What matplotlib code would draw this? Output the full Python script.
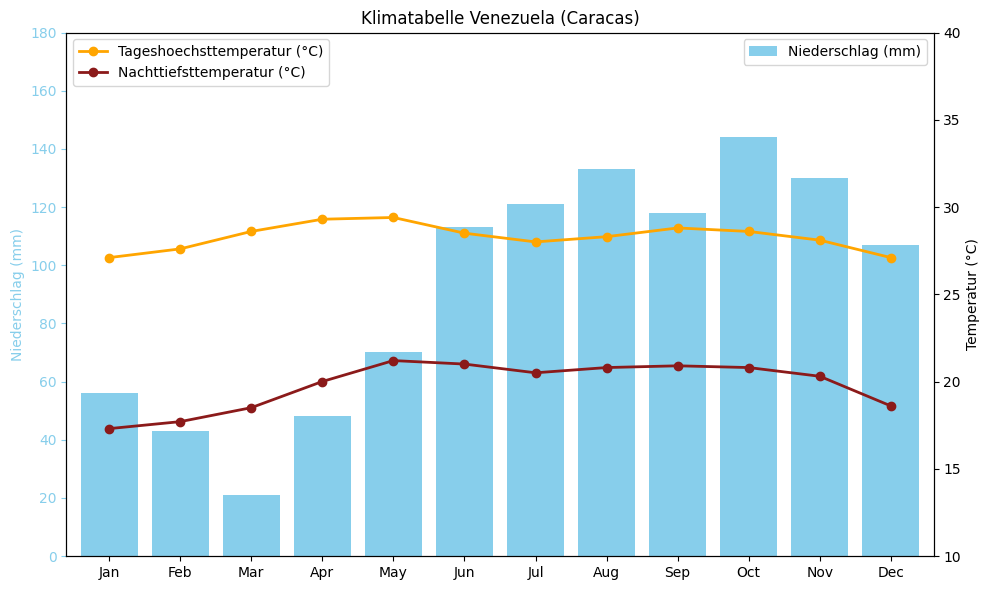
import matplotlib
matplotlib.use("Agg")
import matplotlib.pyplot as plt

months = ["Jan", "Feb", "Mar", "Apr", "May", "Jun", "Jul", "Aug", "Sep", "Oct", "Nov", "Dec"]
niederschlag = [56, 43, 21, 48, 70, 113, 121, 133, 118, 144, 130, 107]
tmax = [27.1, 27.6, 28.6, 29.3, 29.4, 28.5, 28.0, 28.3, 28.8, 28.6, 28.1, 27.1]
tmin = [17.3, 17.7, 18.5, 20.0, 21.2, 21.0, 20.5, 20.8, 20.9, 20.8, 20.3, 18.6]

fig, ax1 = plt.subplots(figsize=(9.89, 5.9), dpi=100)

# Niederschlag als Balken auf der linken Achse
ax1.bar(months, niederschlag, color="skyblue", label="Niederschlag (mm)")
ax1.set_ylim(0, 180)
ax1.set_ylabel("Niederschlag (mm)", color="skyblue")
ax1.tick_params(axis="y", colors="skyblue")
ax1.set_xlim(-0.6, 11.6)

# Temperaturen auf der rechten Achse
ax2 = ax1.twinx()
ax2.plot(months, tmax, color="orange", marker="o", lw=2, label="Tageshoechsttemperatur (°C)")
ax2.plot(months, tmin, color="#8B1A1A", marker="o", lw=2, label="Nachttiefsttemperatur (°C)")
ax2.set_ylim(10, 40)
ax2.set_ylabel("Temperatur (°C)")

ax1.set_title("Klimatabelle Venezuela (Caracas)")
ax2.legend(loc="upper left")
ax1.legend(loc="upper right")

fig.subplots_adjust(left=0.0672, right=0.9439, top=0.9449, bottom=0.0576)
plt.savefig("out.png", dpi=100)
plt.close()
